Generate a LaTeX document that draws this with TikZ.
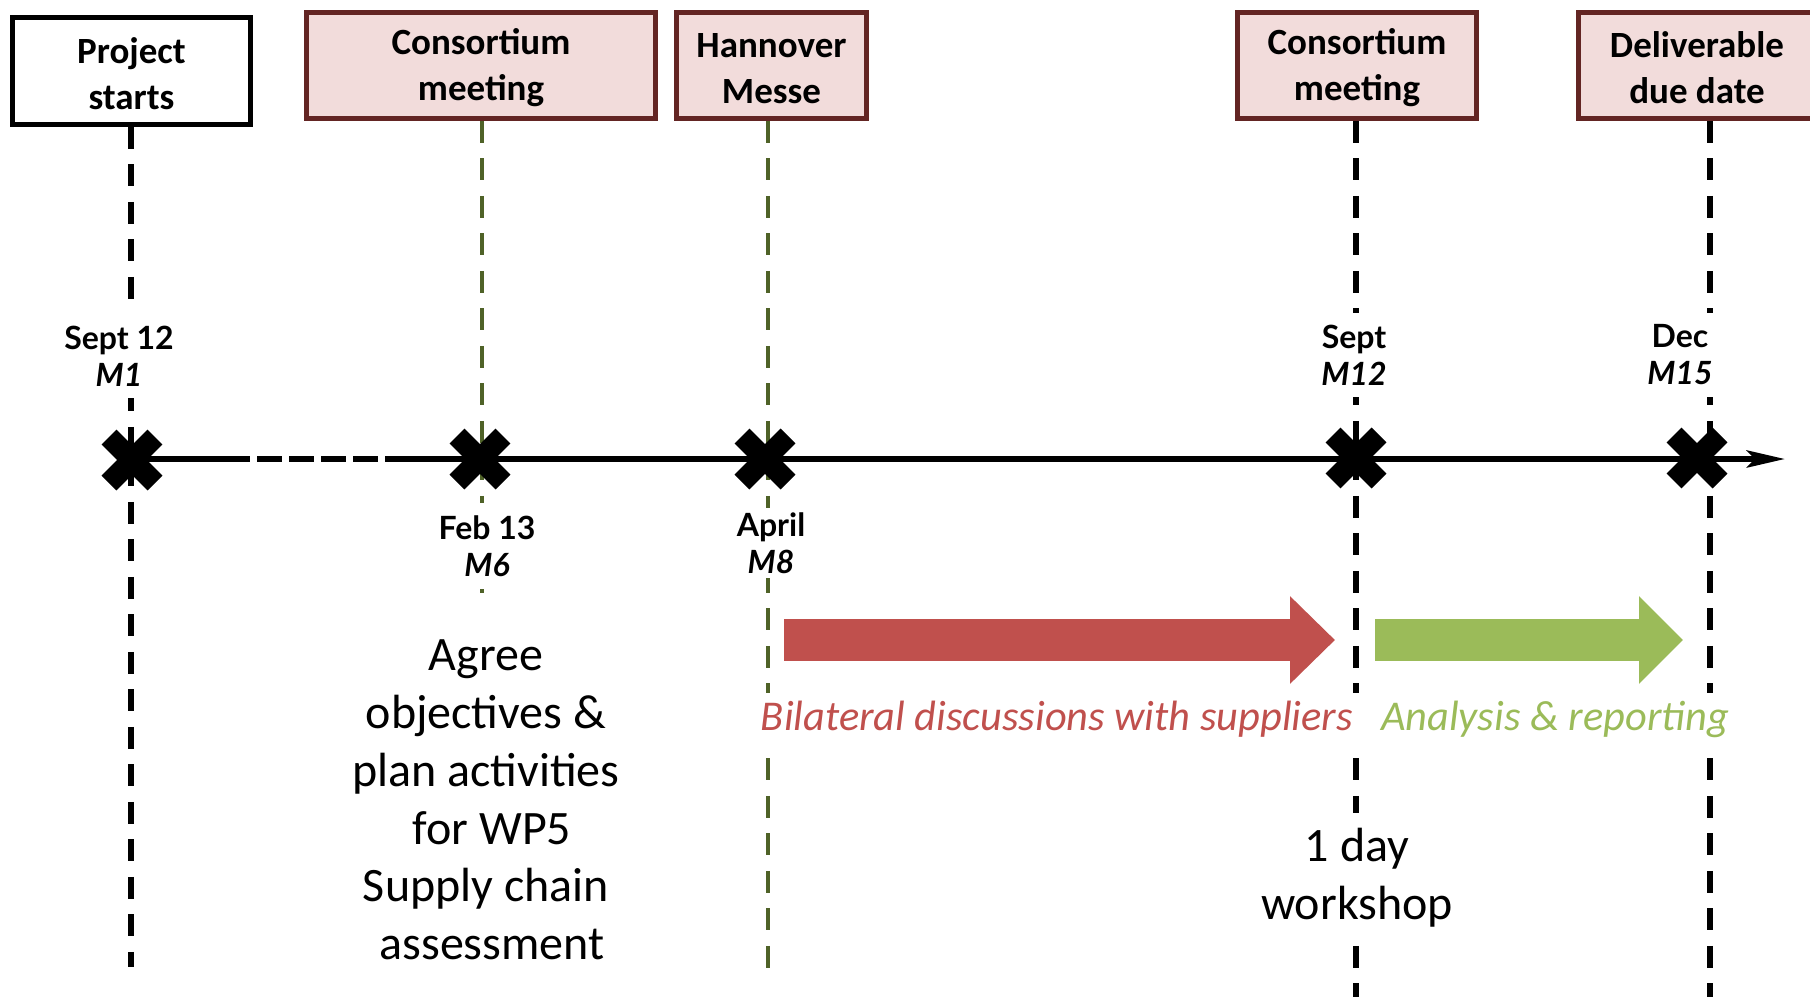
\documentclass[tikz,border=0pt]{standalone}
\usepackage{fontspec}
\setmainfont{Carlito}
\newfontfamily\gill{Lato}
\usetikzlibrary{arrows.meta}
\definecolor{boxfill}{HTML}{F2DCDB}
\definecolor{boxdraw}{HTML}{632523}
\definecolor{olive}{HTML}{4F6228}
\definecolor{redarr}{HTML}{C0504D}
\definecolor{greenarr}{HTML}{9BBB59}
\newcommand{\bstrut}{\rule{0pt}{15.5pt}}
\begin{document}
\begin{tikzpicture}[x=0.5pt,y=-0.5pt,
  event/.style={draw=boxdraw, fill=boxfill, line width=2.4pt, minimum height=53pt,
    align=center, font=\bfseries\fontsize{18.5}{23}\selectfont, inner sep=0pt},
  startbox/.style={event, draw=black, fill=white},
  vblack/.style={draw=black, line width=2.7pt, dash pattern=on 11pt off 7.75pt},
  vgreen/.style={draw=olive, line width=1.9pt, dash pattern=on 11pt off 7.75pt},
  xmark/.style={draw=black, line width=10.5pt, line cap=butt},
  datelbl/.style={font=\gill\bfseries\fontsize{16}{18.5}\selectfont, fill=white,
    align=center, inner xsep=2pt, inner ysep=6pt},
  body/.style={font=\fontsize{24}{28.9}\selectfont, align=center, inner sep=2pt},
  itlbl/.style={font=\itshape\fontsize{21.2}{25}\selectfont, fill=white, inner xsep=4pt, inner ysep=4pt}
]
\useasboundingbox (0,0) rectangle (1810,997);
\clip (0,0) rectangle (1810,997);

% boxes (positions only; drawn later on top)
\path (131.5,71) node[startbox, minimum width=119pt, minimum height=53.5pt] (start) {\bstrut Project\\starts};
\path (481,65.5) node[event, minimum width=174.6pt] (cm1) {\bstrut Consortium\\meeting};
\path (771.5,65.5) node[event, minimum width=95pt] (hm) {\bstrut Hannover\\Messe};
\path (1357,65.5) node[event, minimum width=119.6pt] (cm2) {\bstrut Consortium\\meeting};
\path (1697,65.5) node[event, minimum width=118.6pt] (dd) {\bstrut Deliverable\\due date};

% vertical dashed lines
\coordinate (b1) at (131,967);
\coordinate (b2) at (482,606);
\coordinate (b3) at (768,981);
\coordinate (b4) at (1356,997);
\coordinate (b5) at (1710,997);
\draw[vblack] (start.south -| b1) -- (b1);
\draw[vgreen] (cm1.south -| b2) -- (b2);
\draw[vgreen] (hm.south -| b3) -- (b3);
\draw[vblack] (cm2.south -| b4) -- (b4);
\draw[vblack] (dd.south -| b5) -- (b5);

% timeline
\coordinate (t0) at (132,459);
\coordinate (d1) at (250,459);
\coordinate (d2) at (257,459);
\coordinate (d3) at (378,459);
\coordinate (d4) at (385,459);
\coordinate (tend) at (1785,459);
\draw[line width=3pt] (t0) -- (d1);
\draw[line width=3.3pt, dash pattern=on 12.5pt off 3.5pt] (d2) -- (d3);
\draw[line width=3pt, -{Stealth[length=19pt,width=8.5pt,inset=4pt]}] (d4) -- (tend);

% X markers
\coordinate (x1) at (132,460);
\coordinate (x2) at (480,459);
\coordinate (x3) at (765,459);
\coordinate (x4) at (1356,458);
\coordinate (x5) at (1697,458);
\foreach \p in {x1,x2,x3,x4,x5}{
  \draw[xmark] ([shift={(-23,-23)}]\p) -- ([shift={(23,23)}]\p);
  \draw[xmark] ([shift={(-23,23)}]\p) -- ([shift={(23,-23)}]\p);
}

% block arrows
\coordinate (r0) at (784,640);
\coordinate (r1) at (1335,640);
\coordinate (g0) at (1375,640);
\coordinate (g1) at (1683,640);
\draw[redarr, line width=21pt, -{Triangle[length=22.5pt,width=42.5pt]}] (r0) -- (r1);
\draw[greenarr, line width=21pt, -{Triangle[length=22pt,width=42.5pt]}] (g0) -- (g1);

% date labels
\node[datelbl] (l1) at (119,356) {Sept 12\\\textit{M1}};
\node[datelbl] (l2) at (487,546) {Feb 13\\\textit{M6}};
\node[datelbl, inner ysep=2pt] (l3) at (771,543) {April\\\textit{M8}};
\node[datelbl] (l4) at (1354,355) {Sept\\\textit{M12}};
\node[datelbl] (l5) at (1680,355) {Dec\\\textit{M15}};

% texts
\node[itlbl, text=redarr] (bil) at (1057,719) {Bilateral discussions with suppliers};
\node[itlbl, text=greenarr] (ana) at (1555,719) {Analysis \& reporting};
\node[body] (agree) at (486,800) {Agree\\objectives \&\\plan activities\\\hspace*{6pt}for WP5\\Supply chain\\\hspace*{6pt}assessment};
\node[body, fill=white, inner ysep=8pt] (ws) at (1357,878) {1 day\\workshop};

% boxes drawn on top
\node[startbox, minimum width=119pt, minimum height=53.5pt] at (start) {\bstrut Project\\starts};
\node[event, minimum width=174.6pt] at (cm1) {\bstrut Consortium\\meeting};
\node[event, minimum width=95pt] at (hm) {\bstrut Hannover\\Messe};
\node[event, minimum width=119.6pt] at (cm2) {\bstrut Consortium\\meeting};
\node[event, minimum width=118.6pt] at (dd) {\bstrut Deliverable\\due date};
\end{tikzpicture}
\end{document}
